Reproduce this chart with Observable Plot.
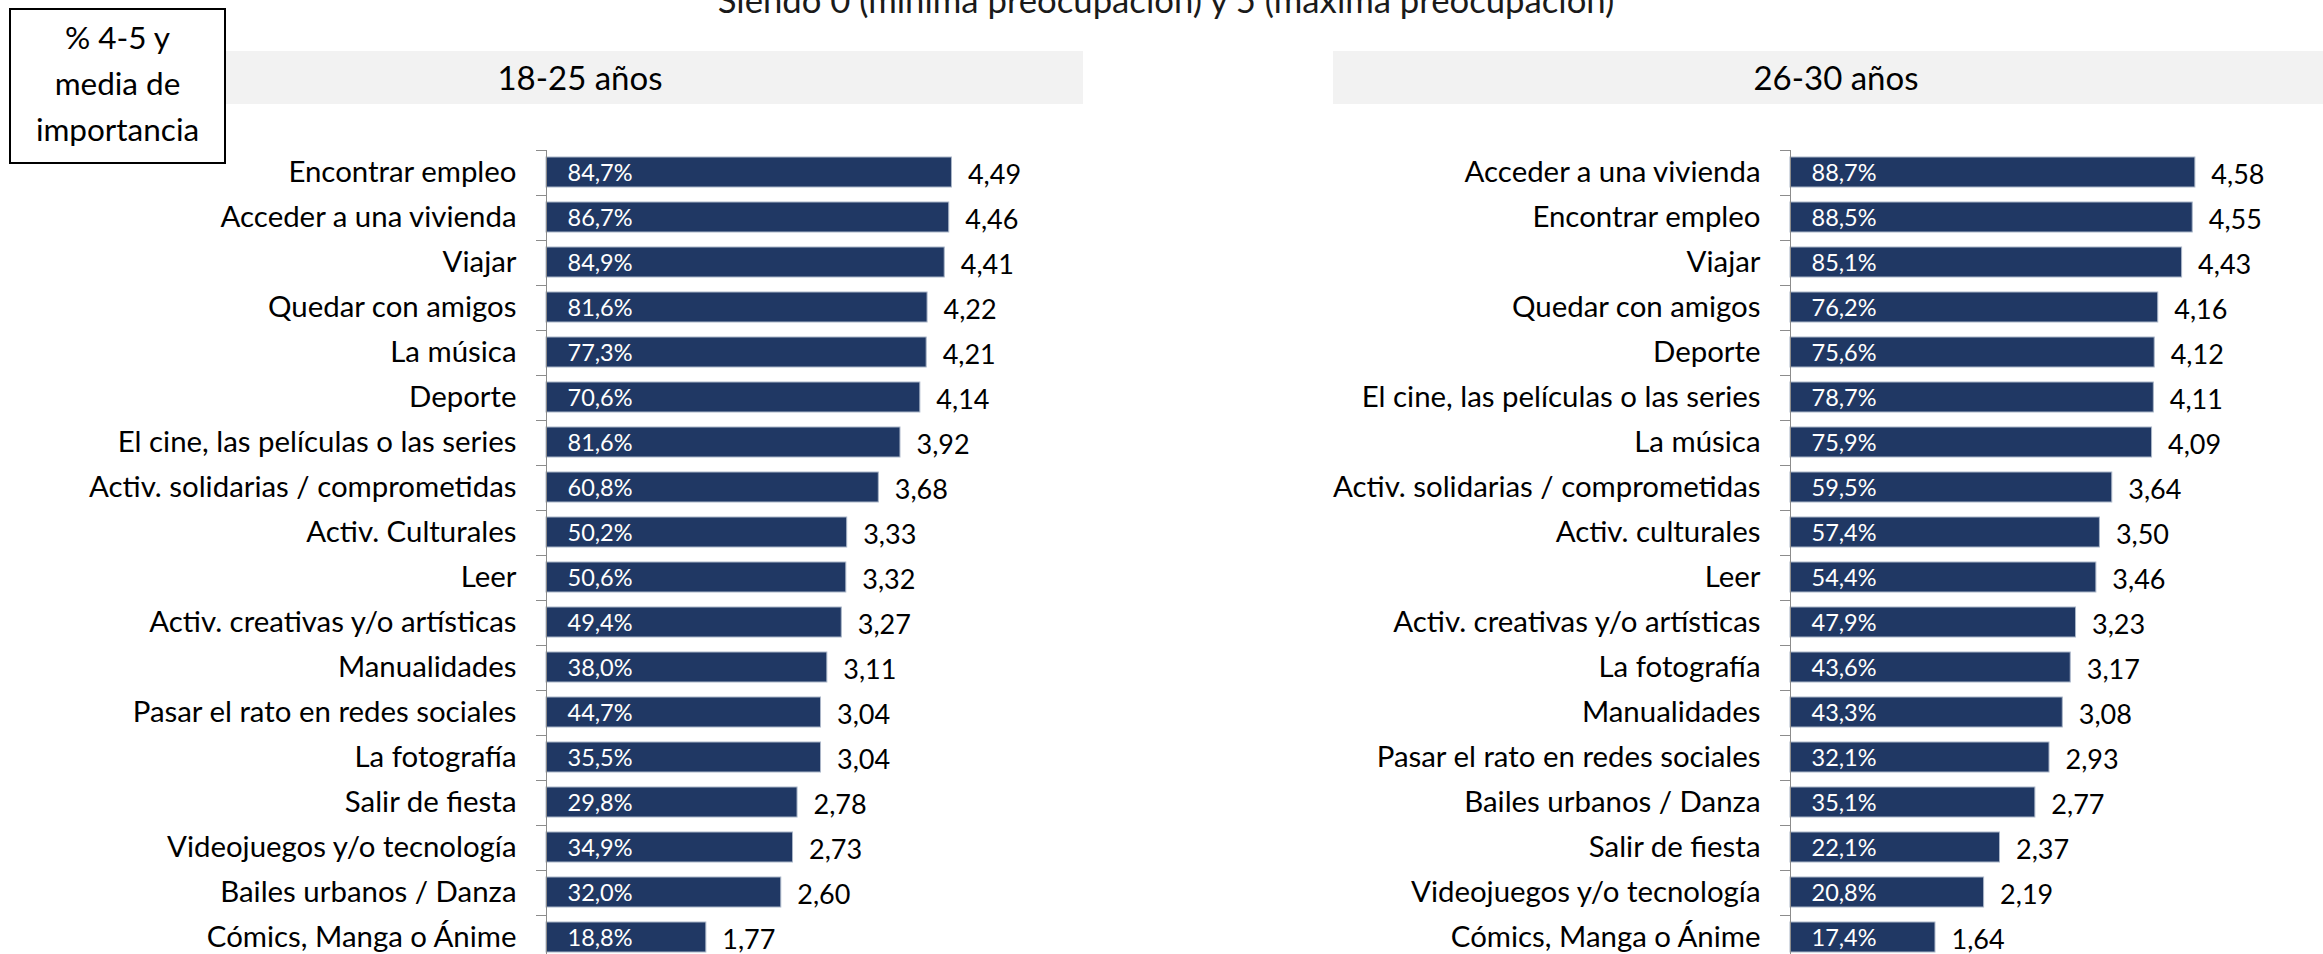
<!DOCTYPE html>
<html>
<head>
<meta charset="utf-8">
<script src="https://cdn.jsdelivr.net/npm/d3@7"></script>
<script src="https://cdn.jsdelivr.net/npm/@observablehq/plot@0.6"></script>
<style>
  html, body { margin: 0; padding: 0; background: #fff; }
  #root { position: relative; width: 2323px; height: 954px; overflow: hidden; background: #fff; font-family: Lato, "Open Sans", sans-serif; color: #000; }
  .abs { position: absolute; }
  #title { left: 0; width: 2332px; top: -17px; font-size: 34.7px; line-height: 34px; text-align: center; color: #1a1a1a; white-space: nowrap; }
  #box { left: 9px; top: 8px; width: 217px; height: 156px; box-sizing: border-box; border: 2px solid #000; padding-top: 4px; text-align: center; font-size: 31.5px; line-height: 46px; }
  .hdr { top: 51px; height: 53px; background: #f2f2f2; }
  .hdrtxt { top: 51px; height: 53px; width: 400px; font-size: 33px; line-height: 53px; text-align: center; white-space: nowrap; }
  .panel { top: 0; }
</style>
</head>
<body>
<div id="root">
  <div id="title" class="abs"></div>
  <div id="hdrL" class="abs hdr" style="left:225px;width:858px"></div>
  <div id="hdrR" class="abs hdr" style="left:1333px;width:990px"></div>
  <div id="hdrLt" class="abs hdrtxt" style="left:380px"></div>
  <div id="hdrRt" class="abs hdrtxt" style="left:1636px"></div>
  <div id="panelL" class="abs panel" style="left:0px"></div>
  <div id="panelR" class="abs panel" style="left:1160px"></div>
  <div id="box" class="abs">% 4-5 y<br>media de<br>importancia</div>
</div>
<script>
// ---- Data ----
const titleText = "Siendo 0 (mínima preocupación) y 5 (máxima preocupación)";
const panelTitles = ["18-25 años", "26-30 años"];

const categories1825 = [
  "Encontrar empleo", "Acceder a una vivienda", "Viajar", "Quedar con amigos",
  "La música", "Deporte", "El cine, las películas o las series",
  "Activ. solidarias / comprometidas", "Activ. Culturales", "Leer",
  "Activ. creativas y/o artísticas", "Manualidades", "Pasar el rato en redes sociales",
  "La fotografía", "Salir de fiesta", "Videojuegos y/o tecnología",
  "Bailes urbanos / Danza", "Cómics, Manga o Ánime"
];
const pct1825 = [84.7, 86.7, 84.9, 81.6, 77.3, 70.6, 81.6, 60.8, 50.2, 50.6, 49.4, 38.0, 44.7, 35.5, 29.8, 34.9, 32.0, 18.8];
const mean1825 = [4.49, 4.46, 4.41, 4.22, 4.21, 4.14, 3.92, 3.68, 3.33, 3.32, 3.27, 3.11, 3.04, 3.04, 2.78, 2.73, 2.60, 1.77];

const categories2630 = [
  "Acceder a una vivienda", "Encontrar empleo", "Viajar", "Quedar con amigos",
  "Deporte", "El cine, las películas o las series", "La música",
  "Activ. solidarias / comprometidas", "Activ. culturales", "Leer",
  "Activ. creativas y/o artísticas", "La fotografía", "Manualidades",
  "Pasar el rato en redes sociales", "Bailes urbanos / Danza", "Salir de fiesta",
  "Videojuegos y/o tecnología", "Cómics, Manga o Ánime"
];
const pct2630 = [88.7, 88.5, 85.1, 76.2, 75.6, 78.7, 75.9, 59.5, 57.4, 54.4, 47.9, 43.6, 43.3, 32.1, 35.1, 22.1, 20.8, 17.4];
const mean2630 = [4.58, 4.55, 4.43, 4.16, 4.12, 4.11, 4.09, 3.64, 3.50, 3.46, 3.23, 3.17, 3.08, 2.93, 2.77, 2.37, 2.19, 1.64];

// ---- Rendering ----
document.getElementById("title").textContent = titleText;
document.getElementById("hdrLt").textContent = panelTitles[0];
document.getElementById("hdrRt").textContent = panelTitles[1];

const fmtMean = v => d3.format(".2f")(v).replace(".", ",");
const fmtPct = v => d3.format(".1f")(v).replace(".", ",") + "%";

function panel(cats, pct, mean, marginLeft, plotWidth) {
  const data = cats.map((c, i) => ({cat: c, pct: pct[i], mean: mean[i]}));
  const marginRight = 70;
  return Plot.plot({
    width: marginLeft + plotWidth + marginRight,
    height: 960,
    marginTop: 150,
    marginBottom: 0,
    marginLeft,
    marginRight,
    x: {domain: [0, 5], axis: null},
    y: {domain: cats, padding: 0, axis: null},
    style: {fontFamily: "Lato, 'Open Sans', sans-serif", background: "transparent", color: "#000", overflow: "visible"},
    marks: [
      Plot.barX(data, {y: "cat", x: "mean", fill: "#203864", stroke: "#aab6c8", strokeWidth: 1, insetTop: 7, insetBottom: 8}),
      Plot.ruleX([0], {stroke: "#8c8c8c", strokeWidth: 1}),
      Plot.axisY({tickSize: 10, dy: -22.5, stroke: "#8c8c8c", tickFormat: () => "", label: null, fontSize: 1}),
      Plot.text(data, {y: "cat", frameAnchor: "left", text: "cat", textAnchor: "end", dx: -30, fontSize: 29.4, fill: "#000"}),
      Plot.text(data, {y: "cat", frameAnchor: "left", text: d => fmtPct(d.pct), textAnchor: "start", dx: 21, fontSize: 23.5, fill: "#ffffff"}),
      Plot.text(data, {y: "cat", x: "mean", text: d => fmtMean(d.mean), textAnchor: "start", dx: 16, dy: 2, fontSize: 27, fill: "#000"})
    ]
  });
}

document.getElementById("panelL").appendChild(panel(categories1825, pct1825, mean1825, 546, 451.5));
document.getElementById("panelR").appendChild(panel(categories2630, pct2630, mean2630, 630, 442));
</script>
</body>
</html>
